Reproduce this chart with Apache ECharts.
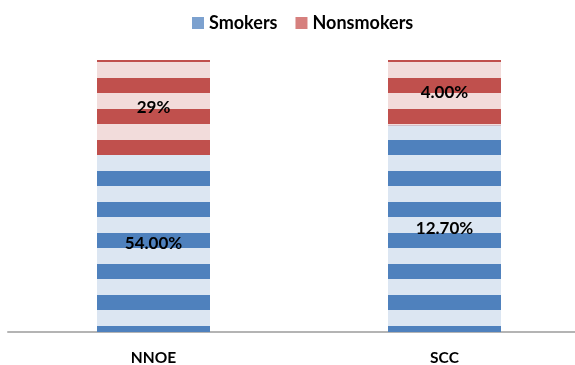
<!DOCTYPE html>
<html>
<head>
<meta charset="utf-8">
<script src="https://cdn.jsdelivr.net/npm/echarts@6/dist/echarts.min.js"></script>
<style>
  html, body { margin: 0; padding: 0; background: #fff; }
  #chart { width: 575px; height: 365px; }
</style>
</head>
<body>
<div id="chart"></div>
<script>
  // values as shown on the chart
  var categories = ['NNOE', 'SCC'];
  var smokers = [54, 12.7];
  var nonsmokers = [29, 4];
  var smokersLabels = ['54.00%', '12.70%'];
  var nonsmokersLabels = ['29%', '4.00%'];

  // 100% stacked: share of each group
  var smokersShare = smokers.map(function (v, i) { return 100 * v / (v + nonsmokers[i]); });
  var nonsmokersShare = nonsmokers.map(function (v, i) { return 100 * v / (smokers[i] + v); });

  var font = 'Lato, "Open Sans", sans-serif';

  function stripes(light) {
    return {
      symbol: 'rect',
      symbolSize: 1,
      color: light,
      dashArrayX: [1, 0],
      dashArrayY: [16, 15],
      rotation: 0
    };
  }

  var myChart = echarts.init(document.getElementById('chart'));

  myChart.setOption({
    animation: false,
    legend: {
      top: 9,
      left: 187,
      itemWidth: 12,
      itemHeight: 12,
      itemGap: 18,
      icon: 'rect',
      textStyle: { fontFamily: font, fontWeight: 'bold', fontSize: 18, color: '#000' },
      data: [
        { name: 'Smokers', itemStyle: { color: '#7ca1cf', decal: 'none' } },
        { name: 'Nonsmokers', itemStyle: { color: '#d6807e', decal: 'none' } }
      ]
    },
    grid: { left: 8, width: 582, top: 60, bottom: 33, outerBoundsMode: 'none', containLabel: false },
    xAxis: {
      type: 'category',
      data: categories,
      axisLine: { lineStyle: { color: '#b4b4b4', width: 2 } },
      axisTick: { show: false },
      axisLabel: { margin: 18, fontFamily: font, fontWeight: 'bold', fontSize: 15.5, color: '#000' }
    },
    yAxis: {
      type: 'value',
      min: 0,
      max: 100,
      show: false,
      splitLine: { show: false }
    },
    series: [
      {
        name: 'Smokers',
        type: 'bar',
        stack: 'total',
        barWidth: 113,
        data: smokersShare,
        itemStyle: { color: '#4f81bd', decal: stripes('#dce6f2') },
        label: {
          show: true,
          position: 'inside',
          formatter: function (p) { return smokersLabels[p.dataIndex]; },
          fontFamily: font, fontWeight: 'bold', fontSize: 17, color: '#000'
        }
      },
      {
        name: 'Nonsmokers',
        type: 'bar',
        stack: 'total',
        barWidth: 113,
        data: nonsmokersShare,
        itemStyle: { color: '#c0504d', decal: stripes('#f2dcdb') },
        label: {
          show: true,
          position: 'inside',
          formatter: function (p) { return nonsmokersLabels[p.dataIndex]; },
          fontFamily: font, fontWeight: 'bold', fontSize: 17, color: '#000'
        }
      }
    ]
  });
</script>
</body>
</html>
